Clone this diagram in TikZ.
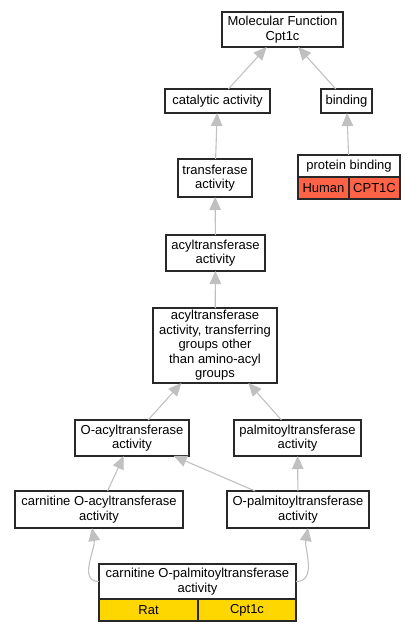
\documentclass[tikz,border=0pt]{standalone}
\usepackage{fontspec}
\setmainfont{Liberation Sans}
\usetikzlibrary{arrows.meta,positioning}
\definecolor{edgegray}{RGB}{192,192,192}
\definecolor{boxline}{RGB}{40,40,40}
\definecolor{humanred}{RGB}{255,99,71}
\definecolor{ratgold}{RGB}{255,215,0}
\tikzset{
  term/.style={draw=boxline, line width=1.2pt, fill=white, align=center, inner sep=0pt,
    outer sep=0pt, font=\fontsize{13}{14.5}\selectfont},
  cell/.style={term, minimum height=22pt, below right=0pt and 0pt of #1},
  isa/.style={draw=edgegray, line width=1.1pt, -{Triangle[length=13pt,width=11.5pt]}},
}

\begin{document}
\begin{tikzpicture}[x=1pt,y=-1pt]
  \useasboundingbox (0,0) rectangle (416,632);
  % terms
  \node[term, minimum width=121pt, minimum height=35pt] (mf) at (282.5,29.5) {Molecular Function\\Cpt1c};
  \node[term, minimum width=105pt, minimum height=24pt] (catal) at (217.5,101) {catalytic activity};
  \node[term, minimum width=51pt, minimum height=24pt] (bind) at (346.5,101) {binding};
  \node[term, minimum width=74pt, minimum height=38pt] (trans) at (215,178) {transferase\\activity};
  \node[term, minimum width=102pt, minimum height=22pt] (pbind) at (349,166) {protein binding};
  \node[cell=pbind.south west, fill=humanred, minimum width=51pt] (human) {Human};
  \node[cell=human.north east, fill=humanred, minimum width=51pt] (cpthum) {CPT1C};
  \node[term, minimum width=99pt, minimum height=36pt] (acyl) at (215.5,253) {acyltransferase\\activity};
  \node[term, minimum width=124pt, minimum height=75pt] (acylgrp) at (215,345.5)
    {acyltransferase\\activity, transferring\\groups other\\than amino-acyl\\groups};
  \node[term, minimum width=114pt, minimum height=36pt] (oacyl) at (132,438) {O-acyltransferase\\activity};
  \node[term, minimum width=127pt, minimum height=36pt] (palm) at (297.5,438) {palmitoyltransferase\\activity};
  \node[term, minimum width=168pt, minimum height=37pt] (coacyl) at (99,509.5) {carnitine O-acyltransferase\\activity};
  \node[term, minimum width=142pt, minimum height=37pt] (opalm) at (298,509.5) {O-palmitoyltransferase\\activity};
  \node[term, minimum width=197pt, minimum height=35pt] (cpt) at (197.5,581.5) {carnitine O-palmitoyltransferase\\activity};
  \node[cell=cpt.south west, fill=ratgold, minimum width=99pt] (rat) {Rat};
  \node[cell=rat.north east, fill=ratgold, minimum width=98pt] (cptrat) {Cpt1c};
  % is_a edges
  \draw[isa] (catal) -- (mf);
  \draw[isa] (bind) -- (mf);
  \draw[isa] (trans) -- (catal);
  \draw[isa] (pbind) -- (bind);
  \draw[isa] (acyl) -- (trans);
  \draw[isa] (acylgrp) -- (acyl);
  \draw[isa] (oacyl) -- (acylgrp);
  \draw[isa] (palm) -- (acylgrp);
  \draw[isa] (coacyl) -- (oacyl);
  \draw[isa] (opalm) -- (oacyl);
  \draw[isa] (opalm) -- (palm);
  \draw[isa] (cpt.west) to[out=180, in=-80] ([xshift=-7pt]coacyl.south);
  \draw[isa] (cpt.east) to[out=0, in=-100] ([xshift=10pt]opalm.south);
\end{tikzpicture}
\end{document}
